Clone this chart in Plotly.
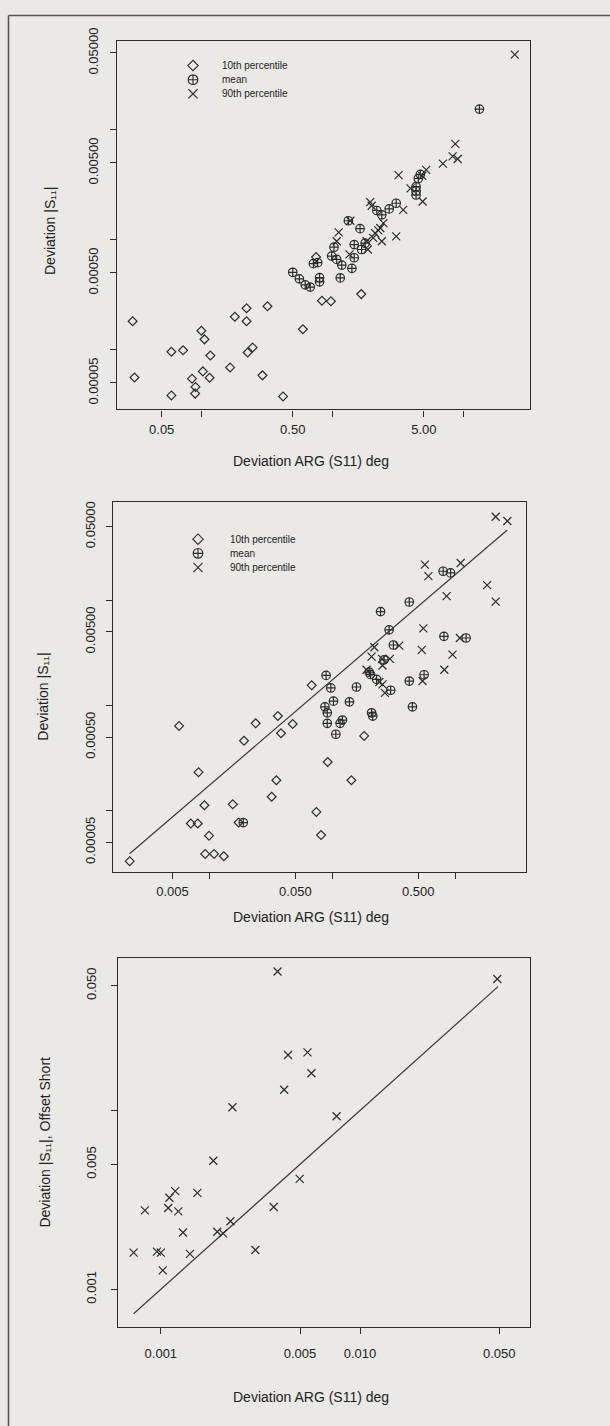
import plotly.graph_objects as go

# ---------------- data ----------------
# Panel 1
p1_p10_x = [0.030, 0.031, 0.0593, 0.0593, 0.0728, 0.0852, 0.0906, 0.0900, 0.1004, 0.106, 0.1031, 0.1175,
            0.1159, 0.1663, 0.1807, 0.222, 0.222, 0.2265, 0.247, 0.2935, 0.3206, 0.4217, 0.597, 0.753,
            0.835, 0.977, 1.665]
p1_p10_y = [1.82e-4, 5.6e-5, 9.6e-5, 3.85e-5, 9.9e-5, 5.47e-5, 4.6e-5, 4.0e-5, 1.49e-4, 1.245e-4, 6.37e-5,
            8.87e-5, 5.58e-5, 6.92e-5, 2.0e-4, 2.39e-4, 1.82e-4, 9.45e-5, 1.05e-4, 5.86e-5, 2.49e-4, 3.77e-5,
            1.54e-4, 6.97e-4, 2.8e-4, 2.76e-4, 3.21e-4]
p1_mean_x = [0.5, 0.5615, 0.6223, 0.68, 0.8011, 0.8011, 0.7184, 0.7745, 1.032, 0.990, 1.082, 1.183, 1.151,
             1.328, 1.631, 1.472, 1.782, 1.676, 1.472, 1.413, 2.188, 2.39, 2.722, 3.078, 4.362, 4.362, 4.362,
             4.54, 4.70, 13.28]
p1_mean_y = [5.07e-4, 4.42e-4, 3.9e-4, 3.72e-4, 4.54e-4, 4.15e-4, 6.07e-4, 6.2e-4, 8.57e-4, 7.12e-4, 6.64e-4,
             5.9e-4, 4.51e-4, 1.491e-3, 1.263e-3, 9.06e-4, 9.32e-4, 8.17e-4, 6.87e-4, 5.51e-4, 1.848e-3,
             1.689e-3, 1.912e-3, 2.15e-3, 3.04e-3, 2.78e-3, 2.557e-3, 3.61e-3, 3.93e-3, 0.01543]
p1_p90_x = [24.7, 8.69, 8.29, 9.06, 6.99, 5.21, 4.87, 3.21, 3.96, 4.90, 3.48, 1.948, 2.0, 2.457, 2.326, 2.248,
            2.128, 2.056, 1.831, 2.39, 3.078, 1.869, 1.374, 1.12, 1.082, 1.356]
p1_p90_y = [0.0483, 7.46e-3, 5.74e-3, 5.43e-3, 4.93e-3, 4.32e-3, 3.82e-3, 3.87e-3, 2.94e-3, 2.23e-3, 1.874e-3,
            2.2e-3, 2.04e-3, 1.42e-3, 1.281e-3, 1.22e-3, 1.147e-3, 1.041e-3, 9.71e-4, 9.71e-4, 1.077e-3,
            8.17e-4, 1.491e-3, 1.17e-3, 9.71e-4, 7.37e-4]

# Panel 2
p2_p10_x = [0.002244, 0.00566, 0.00815, 0.00705, 0.00803, 0.00909, 0.00992, 0.00923, 0.0109, 0.01309, 0.01547,
            0.01726, 0.0191, 0.02377, 0.036, 0.0382, 0.035, 0.03207, 0.04753, 0.0679, 0.0916, 0.0741, 0.0809,
            0.1428, 0.1815]
p2_p10_y = [3.31e-5, 6.38e-4, 2.32e-4, 7.55e-5, 7.55e-5, 1.124e-4, 5.78e-5, 3.88e-5, 3.88e-5, 3.69e-5, 1.148e-4,
            7.71e-5, 4.61e-4, 6.76e-4, 7.93e-4, 5.44e-4, 1.946e-4, 1.355e-4, 6.66e-4, 1.552e-3, 2.9e-4, 9.72e-5,
            5.86e-5, 1.946e-4, 5.13e-4]
p2_mean_x = [0.0889, 0.0971, 0.157, 0.1021, 0.1377, 0.087, 0.0909, 0.0909, 0.1156, 0.1208, 0.1067, 0.2085,
             0.2132, 0.2466, 0.2895, 0.3136, 0.298, 0.2633, 0.1995, 0.204, 0.229, 0.4226, 0.4226, 0.5577,
             0.4483, 0.809, 1.225, 0.797, 0.9157, 0.01884]
p2_mean_y = [1.928e-3, 1.465e-3, 1.497e-3, 1.097e-3, 1.081e-3, 9.7e-4, 8.51e-4, 6.76e-4, 6.76e-4, 7.26e-4,
             5.32e-4, 8.51e-4, 7.92e-4, 7.79e-3, 5.23e-3, 3.75e-3, 1.393e-3, 2.71e-3, 2.07e-3, 1.97e-3,
             1.768e-3, 9.61e-3, 1.705e-3, 1.956e-3, 9.7e-4, 4.53e-3, 4.37e-3, 0.01884, 0.01816, 7.71e-5]
p2_p90_x = [2.132, 2.653, 0.5659, 0.6045, 1.1066, 1.816, 0.851, 2.132, 0.5495, 0.5339, 0.9495, 0.8147, 0.5417,
            0.2195, 0.2085, 0.2539, 0.2938, 0.2558, 0.1897, 0.2413, 0.2559, 0.2674, 0.35, 1.0904]
p2_p90_y = [0.0621, 0.05655, 0.02176, 0.0169, 0.02257, 0.0139, 0.01094, 9.68e-3, 5.39e-3, 3.366e-3, 3.04e-3,
            2.18e-3, 1.705e-3, 3.567e-3, 2.912e-3, 2.769e-3, 2.769e-3, 2.395e-3, 2.18e-3, 1.669e-3, 1.586e-3,
            1.315e-3, 3.7e-3, 4.37e-3]
p2_line_x = [0.00224, 2.65]
p2_line_y = [3.9e-5, 0.0465]

# Panel 3 (offset short)
p3_x = [0.003855, 0.0489, 0.004353, 0.00545, 0.0057, 0.00416, 0.002288, 0.00763, 0.001835, 0.00498, 0.001181,
        0.001526, 0.001104, 0.000832, 0.001089, 0.001224, 0.003685, 0.002237, 0.00192, 0.002054, 0.001292,
        0.00073, 0.000956, 0.001, 0.0014, 0.002983, 0.001023]
p3_y = [0.06005, 0.0545, 0.02047, 0.02117, 0.01619, 0.01308, 0.01045, 0.0093, 0.00524, 0.004147, 0.003542,
        0.003467, 0.003253, 0.002767, 0.00285, 0.00273, 0.002888, 0.002404, 0.0021, 0.002055, 0.00208,
        0.001605, 0.001626, 0.001605, 0.001578, 0.00166, 0.001276]
p3_line_x = [0.00073, 0.0493]
p3_line_y = [0.00073, 0.0494]

# ticks: labelled (major) and unlabelled (minor)
p1_xtickvals = [0.05, 0.5, 5]
p1_xticktext = ["0.05", "0.50", "5.00"]
p1_xminor = [0.1, 1, 10]
p2_xtickvals = [0.005, 0.05, 0.5]
p2_xticktext = ["0.005", "0.050", "0.500"]
p2_xminor = [0.01, 0.1, 1]
p12_ytickvals = [0.00005, 0.0005, 0.005, 0.05]
p12_yticktext = ["0.00005", "0.00050", "0.00500", "0.05000"]
p12_yminor = [0.0001, 0.001, 0.01]
p3_xtickvals = [0.001, 0.005, 0.01, 0.05]
p3_xticktext = ["0.001", "0.005", "0.010", "0.050"]
p3_ytickvals = [0.001, 0.005, 0.05]
p3_yticktext = ["0.001", "0.005", "0.050"]
p3_yminor = [0.01]

legend_labels = ["10th percentile", "mean", "90th percentile"]
legend_symbols = ["diamond-open", "circle-cross-open", "x-thin-open"]

# ---------------- styling ----------------
W, H = 610, 1426
BG = "#eae9e6"
INK = "#2c2c2c"
FONT = "Liberation Sans, Arial, Helvetica, sans-serif"
SYM_SIZE = {"diamond-open": 6.8, "circle-cross-open": 8.5, "x-thin-open": 8}

fig = go.Figure()


def add_series(xs, ys, sym, xa, ya):
    fig.add_trace(go.Scatter(
        x=xs, y=ys, mode="markers", xaxis=xa, yaxis=ya, showlegend=False, hoverinfo="skip",
        marker=dict(symbol=sym, size=SYM_SIZE[sym], color=INK, line=dict(color=INK, width=1.2))))


def add_line(xs, ys, xa, ya):
    fig.add_trace(go.Scatter(x=xs, y=ys, mode="lines", xaxis=xa, yaxis=ya, showlegend=False,
                             hoverinfo="skip", line=dict(color="#3a3a3a", width=1.2)))


# panel 1
add_series(p1_p10_x, p1_p10_y, "diamond-open", "x", "y")
add_series(p1_mean_x, p1_mean_y, "circle-cross-open", "x", "y")
add_series(p1_p90_x, p1_p90_y, "x-thin-open", "x", "y")
# panel 2
add_line(p2_line_x, p2_line_y, "x2", "y2")
add_series(p2_p10_x, p2_p10_y, "diamond-open", "x2", "y2")
add_series(p2_mean_x, p2_mean_y, "circle-cross-open", "x2", "y2")
add_series(p2_p90_x, p2_p90_y, "x-thin-open", "x2", "y2")
# panel 3
add_line(p3_line_x, p3_line_y, "x3", "y3")
add_series(p3_x, p3_y, "x-thin-open", "x3", "y3")


def px(xp):
    return xp / W


def py(yp):
    return 1 - yp / H


# legends (keys on a page-pixel overlay axis, texts in paper coordinates)
legend_pos = [(193, 53, 220), (198, 531, 228)]
row_gap = 14.3
for (sx, sy, tx) in legend_pos:
    for i, (lab, sym) in enumerate(zip(legend_labels, legend_symbols)):
        fig.add_trace(go.Scatter(
            x=[sx], y=[sy + i * row_gap], mode="markers", xaxis="x4", yaxis="y4", showlegend=False,
            hoverinfo="skip",
            marker=dict(symbol=sym, size=SYM_SIZE[sym] + 1.2, color=INK, line=dict(color=INK, width=1.1))))
        fig.add_annotation(x=px(tx), y=py(sy + i * row_gap), xref="paper", yref="paper", text=lab,
                           showarrow=False, xanchor="left", yanchor="middle",
                           font=dict(family=FONT, size=10, color="#222222"))


def axis_common(minor_vals):
    return dict(type="log", showline=True, mirror=True, linecolor=INK, linewidth=1.3,
                ticks="outside", ticklen=6, tickwidth=1.2, tickcolor=INK, showgrid=False,
                zeroline=False, tickmode="array",
                minor=dict(tickmode="array", tickvals=minor_vals, ticks="outside", ticklen=6,
                           tickwidth=1.2, tickcolor=INK, showgrid=False),
                tickfont=dict(family=FONT, size=13, color="#222222"))


layout_axes = {
    "xaxis": dict(axis_common(p1_xminor), domain=[px(117), px(530)], anchor="y", range=[-1.642, 1.509],
                  tickvals=p1_xtickvals, ticktext=p1_xticktext, ticklabelstandoff=2),
    "yaxis": dict(axis_common(p12_yminor), domain=[py(400), py(28)], anchor="x", range=[-4.541, -1.190],
                  tickvals=p12_ytickvals, ticktext=p12_yticktext, tickangle=-90, ticklabelstandoff=7),
    "xaxis2": dict(axis_common(p2_xminor), domain=[px(113), px(526)], anchor="y2", range=[-2.785, 0.5756],
                   tickvals=p2_xtickvals, ticktext=p2_xticktext, ticklabelstandoff=1),
    "yaxis2": dict(axis_common(p12_yminor), domain=[py(867), py(494)], anchor="x2", range=[-4.584, -1.0717],
                   tickvals=p12_ytickvals, ticktext=p12_yticktext, tickangle=-90, ticklabelstandoff=6),
    "xaxis3": dict(axis_common([]), domain=[px(118), px(530)], anchor="y3", range=[-3.215, -1.1465],
                   tickvals=p3_xtickvals, ticktext=p3_xticktext, ticklabelstandoff=8),
    "yaxis3": dict(axis_common(p3_yminor), domain=[py(1326), py(954)], anchor="x3", range=[-3.2104, -1.1476],
                   tickvals=p3_ytickvals, ticktext=p3_yticktext, tickangle=-90, ticklabelstandoff=10),
    "xaxis4": dict(domain=[0, 1], range=[0, W], visible=False, anchor="y4", fixedrange=True),
    "yaxis4": dict(domain=[0, 1], range=[H, 0], visible=False, anchor="x4", fixedrange=True),
}

# axis titles (paper coordinates)
titles = [
    (311, 452, "Deviation ARG (S11) deg", 0),
    (50, 220, "Deviation |S₁₁|", -90),
    (311, 912, "Deviation ARG (S11) deg", 0),
    (43, 690, "Deviation |S₁₁|", -90),
    (311, 1397, "Deviation ARG (S11) deg", 0),
    (45, 1140, "Deviation |S₁₁|, Offset Short", -90),
]
for (tx, ty, txt, ang) in titles:
    fig.add_annotation(x=px(tx), y=py(ty), xref="paper", yref="paper", text=txt, showarrow=False,
                       textangle=ang, xanchor="center", yanchor="middle",
                       font=dict(family=FONT, size=14, color="#222222"))

# page frame (left and top edges of the scanned figure box)
fig.add_shape(type="line", xref="paper", yref="paper", x0=px(8.5), x1=px(8.5), y0=0, y1=py(2.5),
              line=dict(color="#555555", width=1.6))
fig.add_shape(type="line", xref="paper", yref="paper", x0=px(8.5), x1=1, y0=py(2.5), y1=py(2.5),
              line=dict(color="#555555", width=1.6))

fig.update_layout(
    width=W, height=H, margin=dict(l=0, r=0, t=0, b=0),
    paper_bgcolor=BG, plot_bgcolor="rgba(0,0,0,0)", showlegend=False,
    font=dict(family=FONT, color="#222222"),
    **layout_axes,
)

fig.write_html("out.html", config={"displayModeBar": False},
               post_script="document.body.style.margin='0';")
